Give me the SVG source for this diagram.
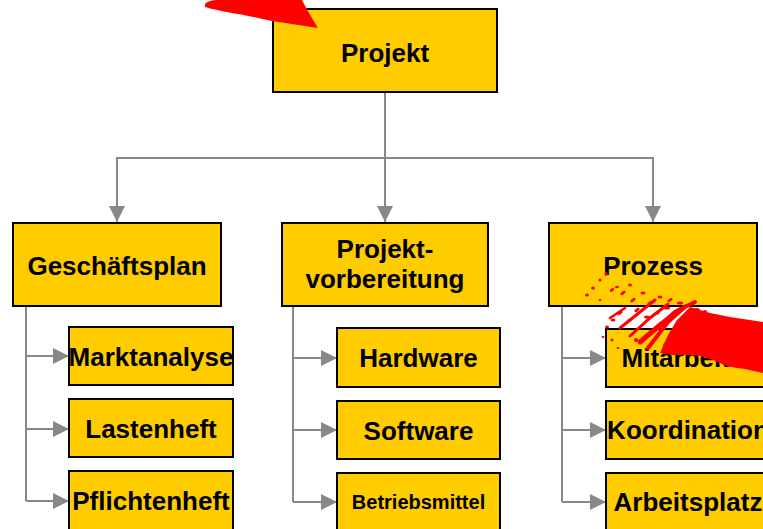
<svg xmlns="http://www.w3.org/2000/svg" width="763" height="529" viewBox="0 0 763 529">
<style>
.box{fill:#FFCC00;stroke:#000;stroke-width:2}
.t{font-family:"Liberation Sans",Arial,sans-serif;font-weight:bold;font-size:26px;fill:#000;text-anchor:middle}
.s{font-size:20px}
.c{fill:none;stroke:#888;stroke-width:2}
.red{fill:#FF0000}
</style>
<defs>
<marker id="ah" markerUnits="userSpaceOnUse" markerWidth="16" markerHeight="16" refX="16" refY="8" orient="auto" viewBox="0 0 16 16">
<path d="M0,0 L16,8 L0,16 Z" fill="#888"/>
</marker>
</defs>
<rect width="763" height="529" fill="#fff"/>

<g id="connectors">
<path class="c" d="M385,93 V222" marker-end="url(#ah)"/>
<path class="c" d="M385,158 H117 V222" marker-end="url(#ah)"/>
<path class="c" d="M385,158 H653 V222" marker-end="url(#ah)"/>
<path class="c" d="M26,288 V501"/>
<path class="c" d="M26,356 H69" marker-end="url(#ah)"/>
<path class="c" d="M26,429 H69" marker-end="url(#ah)"/>
<path class="c" d="M26,501 H69" marker-end="url(#ah)"/>
<path class="c" d="M293,290 V502"/>
<path class="c" d="M293,358 H337" marker-end="url(#ah)"/>
<path class="c" d="M293,430 H337" marker-end="url(#ah)"/>
<path class="c" d="M293,502 H337" marker-end="url(#ah)"/>
<path class="c" d="M562,290 V502"/>
<path class="c" d="M562,358 H606" marker-end="url(#ah)"/>
<path class="c" d="M562,430 H606" marker-end="url(#ah)"/>
<path class="c" d="M562,502 H606" marker-end="url(#ah)"/>
</g>

<g id="projekt"><rect class="box" x="273" y="9" width="224" height="83"/><text class="t" x="385" y="62">Projekt</text></g>
<g id="geschaeftsplan"><rect class="box" x="13" y="223" width="208" height="83"/><text class="t" x="117" y="275">Geschäftsplan</text></g>
<g id="projektvorbereitung"><rect class="box" x="282" y="223" width="206" height="83"/><text class="t" x="385" y="258">Projekt-</text><text class="t" x="385" y="288">vorbereitung</text></g>
<g id="prozess"><rect class="box" x="549" y="223" width="208" height="83"/><text class="t" x="653" y="275">Prozess</text></g>

<g id="marktanalyse"><rect class="box" x="69" y="327" width="164" height="58"/><text class="t" x="151" y="366">Marktanalyse</text></g>
<g id="lastenheft"><rect class="box" x="69" y="399" width="164" height="58"/><text class="t" x="151" y="438">Lastenheft</text></g>
<g id="pflichtenheft"><rect class="box" x="69" y="471" width="164" height="60"/><text class="t" x="151" y="510">Pflichtenheft</text></g>

<g id="hardware"><rect class="box" x="337" y="328" width="163" height="59"/><text class="t" x="418.5" y="367">Hardware</text></g>
<g id="software"><rect class="box" x="337" y="401" width="163" height="58"/><text class="t" x="418.5" y="440">Software</text></g>
<g id="betriebsmittel"><rect class="box" x="337" y="473" width="163" height="60"/><text class="t s" x="418.5" y="509">Betriebsmittel</text></g>

<g id="mitarbeiter"><rect class="box" x="606" y="329" width="164" height="58"/><text class="t" x="688" y="367">Mitarbeiter</text></g>
<g id="koordination"><rect class="box" x="606" y="401" width="164" height="58"/><text class="t" x="688" y="439">Koordination</text></g>
<g id="arbeitsplatz"><rect class="box" x="606" y="473" width="164" height="60"/><text class="t" x="688" y="511">Arbeitsplatz</text></g>

<g id="red-marks">
<path class="red" d="M205,4 C208,1 212,0 218,0 L302,0 C305,6 310,15 318,28 C300,25 285,23 272,21 C258,18 245,15 238,14 C225,12 212,9 205,7 Z"/>
<path class="red" d="M660,353 L668,335 L677,320 L690,307 L700,310 L710,313 L730,317 L763,322 L763,373 L745,369 L737,368 L727,366 L713,360 L700,356 L690,355 L673,355 Z"/>
<g fill="none" stroke="#FF0000" stroke-linecap="round">
<path d="M640,342 L660,325 L680,310" stroke-width="5"/>
<path d="M648,348 L668,322 L686,306" stroke-width="4"/>
<path d="M620,328 L640,312 L655,300" stroke-width="3"/>
<path d="M630,336 L650,318 L668,304" stroke-width="3"/>
<path d="M655,330 L675,312 L695,302" stroke-width="4"/>
<path d="M610,318 L625,308" stroke-width="2.5"/>
<path d="M665,345 L690,318 L705,312" stroke-width="4"/>
</g>
<g class="red">
<ellipse cx="587" cy="295" rx="2" ry="1.5"/>
<ellipse cx="593" cy="288" rx="2" ry="1.5"/>
<ellipse cx="600" cy="280" rx="1.5" ry="1.5"/>
<ellipse cx="606" cy="274" rx="1.5" ry="2"/>
<ellipse cx="612" cy="290" rx="2.5" ry="1.5" transform="rotate(-35 612 290)"/>
<ellipse cx="617" cy="287" rx="2" ry="1.2"/>
<ellipse cx="623" cy="293" rx="3" ry="1.5" transform="rotate(-35 623 293)"/>
<ellipse cx="630" cy="285" rx="2" ry="1.5"/>
<ellipse cx="633" cy="300" rx="3" ry="1.5" transform="rotate(-35 633 300)"/>
<ellipse cx="643" cy="293" rx="2.5" ry="1.5"/>
<ellipse cx="650" cy="303" rx="3" ry="1.5" transform="rotate(-35 650 303)"/>
<ellipse cx="660" cy="297" rx="2.5" ry="1.5"/>
<ellipse cx="670" cy="300" rx="3" ry="1.5" transform="rotate(-30 670 300)"/>
<ellipse cx="620" cy="313" rx="3" ry="1.5" transform="rotate(-35 620 313)"/>
<ellipse cx="613" cy="320" rx="2.5" ry="1.5"/>
<ellipse cx="607" cy="327" rx="2" ry="1.5"/>
<ellipse cx="600" cy="300" rx="1.5" ry="1"/>
<ellipse cx="630" cy="320" rx="3" ry="1.5" transform="rotate(-35 630 320)"/>
<ellipse cx="637" cy="310" rx="3" ry="1.5" transform="rotate(-35 637 310)"/>
<ellipse cx="647" cy="317" rx="3" ry="1.5"/>
<ellipse cx="657" cy="313" rx="2.5" ry="1.5"/>
<ellipse cx="667" cy="308" rx="3" ry="1.5"/>
<ellipse cx="680" cy="303" rx="3" ry="1.5"/>
<ellipse cx="697" cy="310" rx="3" ry="2"/>
<ellipse cx="612" cy="340" rx="1.5" ry="1.5"/>
<ellipse cx="618" cy="348" rx="1.5" ry="1"/>
<ellipse cx="636" cy="340" rx="2" ry="2"/>
<ellipse cx="603" cy="337" rx="1.5" ry="1"/>
</g>
</g>
</svg>
